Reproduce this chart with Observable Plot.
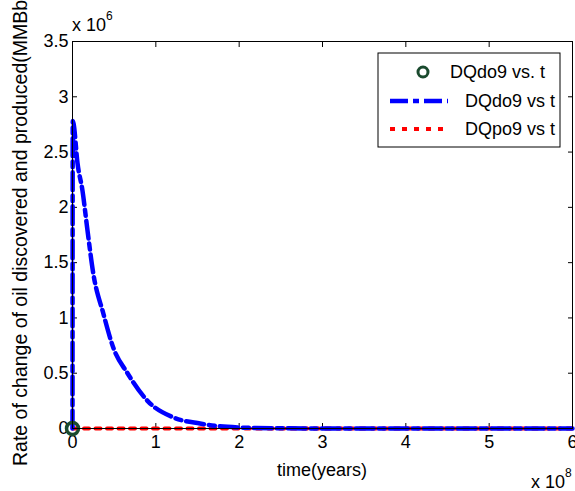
<!DOCTYPE html>
<html>
<head>
<meta charset="utf-8">
<script src="https://cdn.jsdelivr.net/npm/d3@7"></script>
<script src="https://cdn.jsdelivr.net/npm/@observablehq/plot@0.6"></script>
<style>
  html, body { margin: 0; padding: 0; background: #fff; }
  #chart svg { display: block; }
</style>
</head>
<body>
<div id="chart"></div>
<script>
// x in units of 1e8 years, y in units of 1e6
const tBlue = [0, 0.003, 0.012, 0.06, 0.12, 0.18, 0.25, 0.37, 0.49, 0.66, 0.9, 1.21, 1.53, 1.86, 2.2, 3, 4, 5, 6];
const qBlue = [0, 2.78, 2.76, 2.40, 2.15, 1.79, 1.40, 1.04, 0.73, 0.50, 0.25, 0.10, 0.045, 0.015, 0.005, 0, 0, 0, 0];
const tRed = [0, 6];
const qRed = [0, 0];
const tCircle = [0];
const qCircle = [0];
const xTicks = [0, 1, 2, 3, 4, 5, 6];
const yTicks = [0, 0.5, 1, 1.5, 2, 2.5, 3, 3.5];
const legendLabels = ["DQdo9 vs. t", "DQdo9 vs t", "DQpo9 vs t"];
const xLabel = "time(years)";
const yLabel = "Rate of change of oil discovered and produced(MMBbl)";

const blue = tBlue.map((t, i) => ({t, q: qBlue[i]}));
const red = tRed.map((t, i) => ({t, q: qRed[i]}));
const circ = tCircle.map((t, i) => ({t, q: qCircle[i]}));

const W = 575, H = 491;
const mL = 72, mR = 3, mT = 41, mB = 63;
const FONT = "'Liberation Sans', Arial, sans-serif";
const FS = 18;

const plot = Plot.plot({
  width: W, height: H,
  marginLeft: mL, marginRight: mR, marginTop: mT, marginBottom: mB,
  style: {fontFamily: FONT, fontSize: FS + "px", color: "#000", background: "#fff"},
  x: {domain: [0, 6], label: null},
  y: {domain: [0, 3.5], label: null},
  marks: [
    Plot.axisX({ticks: xTicks, tickSize: -5, tickPadding: 12, tickFormat: d => String(d), label: null, fontSize: FS}),
    Plot.axisX({ticks: xTicks, anchor: "top", tickSize: -5, tickFormat: () => "", label: null}),
    Plot.axisY({ticks: yTicks, tickSize: -5, tickPadding: 9, tickFormat: d => String(d), label: null, fontSize: FS}),
    Plot.axisY({ticks: yTicks, anchor: "right", tickSize: -5, tickFormat: () => "", label: null}),
    Plot.line(red, {x: "t", y: "q", stroke: "#ff0000", strokeWidth: 4, strokeDasharray: "5,6.5"}),
    Plot.line(blue, {x: "t", y: "q", stroke: "#0000ff", strokeWidth: 4.5, strokeDasharray: "18,5,6,5", curve: "monotone-x"}),
    Plot.dot(circ, {x: "t", y: "q", r: 6, stroke: "#1a4a2e", strokeWidth: 3.5, fill: "none"}),
    Plot.frame({stroke: "#000"})
  ]
});
document.getElementById("chart").appendChild(plot);

const svg = d3.select(plot);

// multipliers
const m6 = svg.append("text").attr("x", mL).attr("y", 31).attr("text-anchor", "start")
  .attr("font-family", FONT).attr("font-size", FS).attr("fill", "#000");
m6.append("tspan").text("x 10");
m6.append("tspan").attr("dy", -11).attr("font-size", 12).text("6");

const m8 = svg.append("text").attr("x", 531).attr("y", 488).attr("text-anchor", "start")
  .attr("font-family", FONT).attr("font-size", FS).attr("fill", "#000");
m8.append("tspan").text("x 10");
m8.append("tspan").attr("dy", -11).attr("font-size", 12).text("8");

// axis labels
svg.append("text").attr("x", (mL + W - mR) / 2).attr("y", 476)
  .attr("text-anchor", "middle").attr("font-family", FONT).attr("font-size", FS)
  .attr("fill", "#000").text(xLabel);
svg.append("text").attr("transform", `translate(27,466) rotate(-90)`)
  .attr("text-anchor", "start").attr("font-family", FONT).attr("font-size", 19.5)
  .attr("fill", "#000").text(yLabel);

// legend
const lg = svg.append("g");
lg.append("rect").attr("x", 378).attr("y", 53).attr("width", 182).attr("height", 94)
  .attr("fill", "#fff").attr("stroke", "#000").attr("stroke-width", 1);
const rows = [72, 101, 129];
lg.append("circle").attr("cx", 423).attr("cy", rows[0]).attr("r", 5).attr("fill", "none")
  .attr("stroke", "#1a4a2e").attr("stroke-width", 3);
lg.append("line").attr("x1", 390).attr("x2", 448).attr("y1", rows[1]).attr("y2", rows[1])
  .attr("stroke", "#0000ff").attr("stroke-width", 4.5).attr("stroke-dasharray", "18,5,6,5");
lg.append("line").attr("x1", 390).attr("x2", 448).attr("y1", rows[2]).attr("y2", rows[2])
  .attr("stroke", "#ff0000").attr("stroke-width", 4).attr("stroke-dasharray", "5,7");
const textX = [450, 465, 465];
legendLabels.forEach((s, i) => {
  lg.append("text").attr("x", textX[i]).attr("y", rows[i] + 6).attr("text-anchor", "start")
    .attr("font-family", FONT).attr("font-size", FS).attr("fill", "#000").text(s);
});
</script>
</body>
</html>
